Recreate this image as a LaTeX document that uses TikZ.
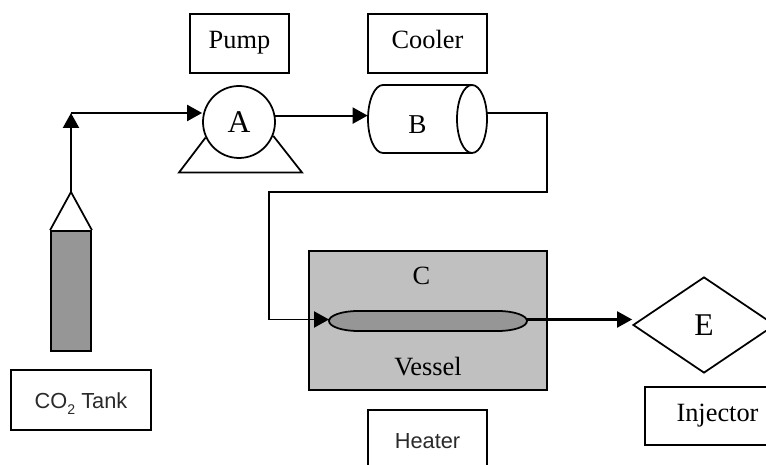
\documentclass[tikz,border=0pt]{standalone}
\usepackage{fontspec}
\setmainfont{Liberation Serif}
\setsansfont{Liberation Sans}
\usetikzlibrary{arrows.meta,shapes.geometric}
\definecolor{tankgrey}{HTML}{969696}
\definecolor{vesselgrey}{HTML}{C0C0C0}
\definecolor{sanstext}{HTML}{2A2A2A}
\tikzset{
  lblbox/.style={draw=black, line width=1pt, align=center, inner sep=0pt,
                 minimum height=1.18cm, text height=8pt, text depth=2.3pt,
                 font=\fontsize{15}{18}\selectfont},
  sansbox/.style={lblbox, text height=10.6pt, text depth=0.36pt, text=sanstext,
                  font=\fontsize{12.4}{14}\sffamily},
  part/.style={draw=black, line width=1pt, inner sep=0pt},
  tag/.style={anchor=base, inner sep=0pt, font=\fontsize{15}{18}\selectfont},
  flow/.style={-{Triangle[length=3mm,width=3.2mm]}, line width=1.2pt, draw=black},
  pipe/.style={line width=1.1pt, draw=black},
}

\begin{document}
\begin{tikzpicture}
\path[use as bounding box, clip] (0,0) rectangle (15.32,9.3);

% ---------------- name boxes ----------------------------------------------
\node[lblbox, minimum width=1.98cm] at (4.79,8.43) (pumplbl) {Pump};
\node[lblbox, minimum width=2.38cm] at (8.55,8.43) (coollbl) {Cooler};
\node[sansbox, minimum width=2.8cm, minimum height=1.2cm] at (1.62,1.30) (tanklbl)
   {CO\raisebox{-.25em}{\fontsize{8}{8}\selectfont 2} Tank};
\node[sansbox, minimum width=2.38cm, minimum height=1.2cm] at (8.55,0.50) (heatlbl) {Heater};
\node[lblbox, minimum width=2.9cm, minimum height=1.16cm] at (14.35,0.98) (injlbl) {Injector};

% ---------------- tank ----------------------------------------------------
\node[part, fill=tankgrey, minimum width=0.8cm, minimum height=2.4cm] at (1.42,3.48) (tank) {};
\coordinate (tanktop) at (1.42,5.46);
\coordinate (tankbend) at (1.42,7.04);
\draw[part] (tank.north west) -- (tanktop) -- (tank.north east);

% ---------------- pump ----------------------------------------------------
\node[part, circle, minimum size=1.44cm, font=\fontsize{18}{20}\selectfont]
   at (4.78,6.86) (pump) {A};
\draw[part, line join=miter] (pump.205) -- (3.58,5.85) -- (6.04,5.85) -- (pump.-22);
\draw[flow] (tanktop) -- (tankbend);
\draw[flow] (tankbend) -- (tankbend -| pump.west);

% ---------------- cooler --------------------------------------------------
\node[inner sep=0pt, minimum width=2.38cm, minimum height=1.36cm] at (8.55,6.92) (cooler) {};
\draw[part] (9.44,7.60) -- (7.66,7.60)
   arc[start angle=90, end angle=270, x radius=0.3, y radius=0.68] -- (9.44,6.24);
\draw[part] (9.44,6.92) ellipse[x radius=0.3, y radius=0.68];
\begin{scope}
  \clip (7.8,6.646) rectangle (9,7.4);
  \node[tag, font=\fontsize{15.5}{18}\selectfont] at (8.35,6.62) (coolb) {B};
\end{scope}
\draw[flow] (pump.10) -- (pump.10 -| cooler.west);

% ---------------- vessel --------------------------------------------------
\node[part, fill=vesselgrey, minimum width=4.76cm, minimum height=2.78cm]
   at (8.56,2.89) (vessel) {};
\node[tag] at (8.43,3.60) (vesc) {C};
\node[tag] at (8.56,1.78) (veslbl) {Vessel};
\draw[part, fill=tankgrey] (7.16,3.08) -- (9.96,3.08)
   arc[start angle=90, end angle=-90, x radius=0.58, y radius=0.2]
   -- (7.16,2.68)
   arc[start angle=270, end angle=90, x radius=0.58, y radius=0.2] -- cycle;
\coordinate (capin) at (6.58,2.91);
\coordinate (capout) at (10.54,2.91);

% ---------------- pipes ---------------------------------------------------
\coordinate (pipetop) at (10.94,5.46);
\coordinate (pipebot) at (5.38,5.46);
\draw[pipe] ([yshift=0.12cm]cooler.east) -| (pipetop) -- (pipebot) |- (capin);
\draw[flow] ([xshift=-0.3cm]capin) -- (capin);

% ---------------- injector ------------------------------------------------
\node[part, diamond, aspect=1.48, minimum width=2.84cm, minimum height=1.92cm,
      font=\fontsize{18}{20}\selectfont] at (14.08,2.80) (inj) {E};
\draw[flow] (capout) -- (capout -| inj.west);
\end{tikzpicture}
\end{document}
